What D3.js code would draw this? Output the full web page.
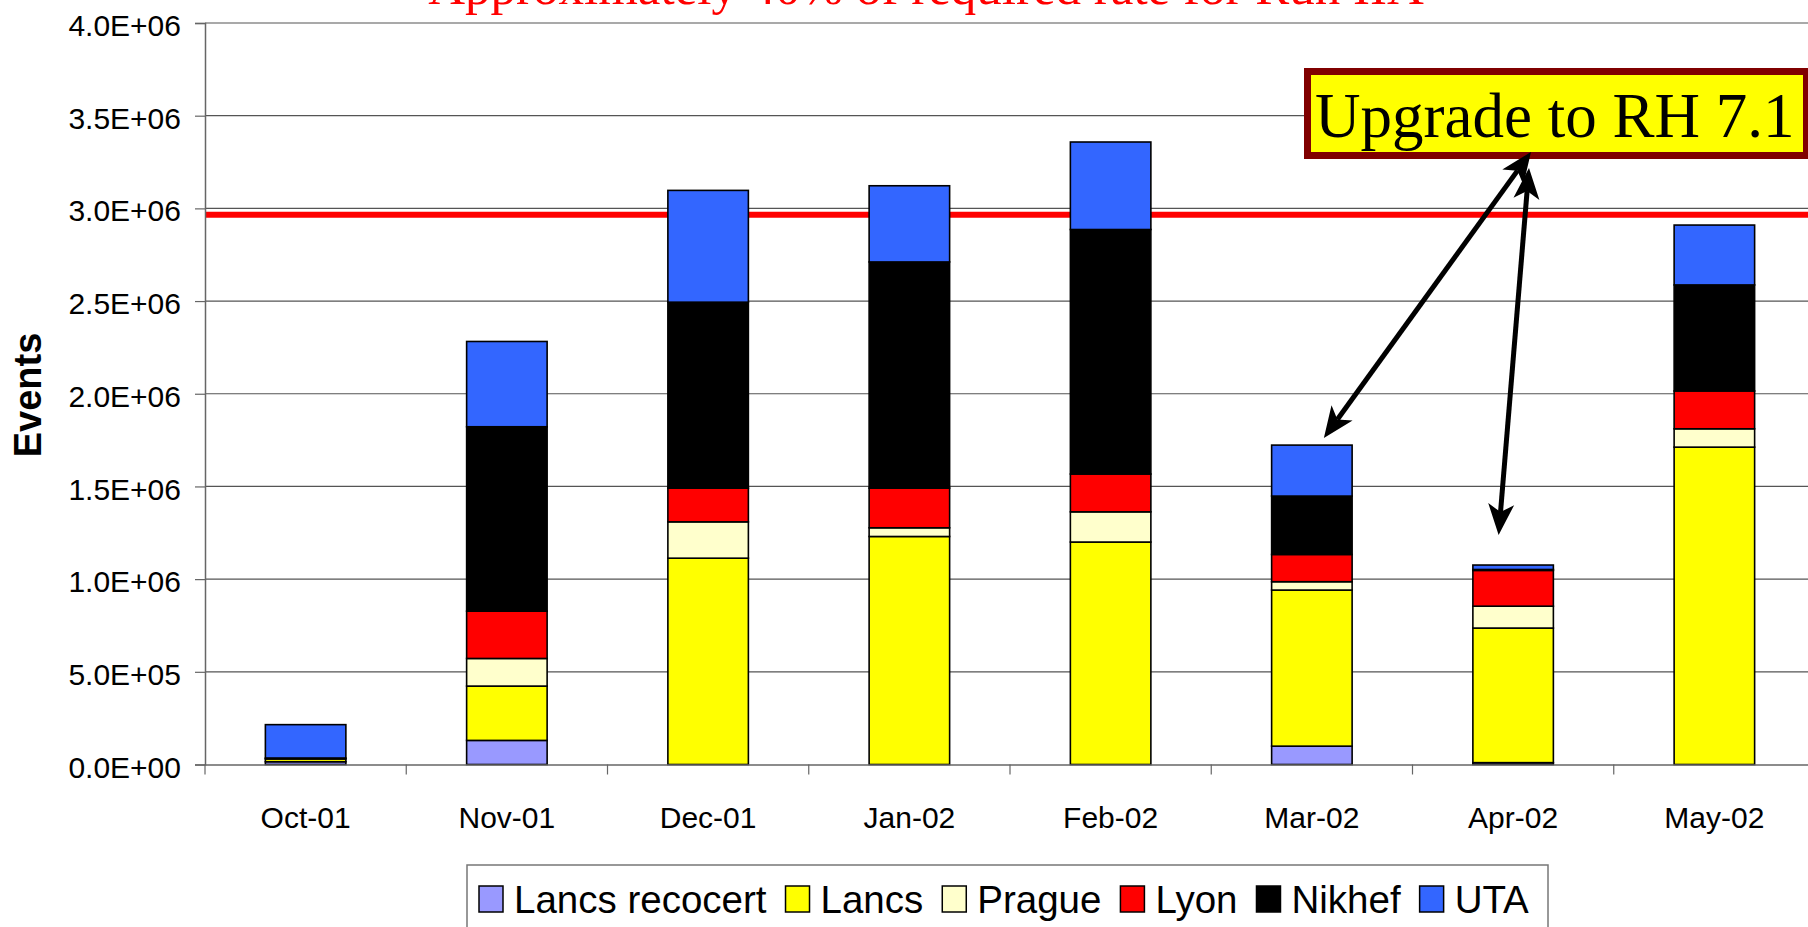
<!DOCTYPE html>
<html>
<head>
<meta charset="utf-8">
<script src="https://cdn.jsdelivr.net/npm/d3@7/dist/d3.min.js"></script>
<style>
  html, body { margin: 0; padding: 0; background: #fff; overflow: hidden; }
  svg { display: block; }
</style>
</head>
<body>
<svg id="chart" width="1808" height="927"></svg>
<script>
// ---------------- DATA ----------------
const categories = ["Oct-01", "Nov-01", "Dec-01", "Jan-02", "Feb-02", "Mar-02", "Apr-02", "May-02"];
const seriesNames = ["Lancs recocert", "Lancs", "Prague", "Lyon", "Nikhef", "UTA"];
const seriesColors = ["#9999FF", "#FFFF00", "#FFFFCC", "#FF0000", "#000000", "#3366FF"];
const lancsRecocert = [15000, 130000, 0, 0, 0, 99000, 10000, 0];
const lancs         = [15000, 293000, 1113000, 1230000, 1200000, 842000, 726000, 1712000];
const prague        = [5000, 149000, 196000, 47000, 163000, 45000, 118000, 99000];
const lyon          = [0, 255000, 182000, 214000, 204000, 147000, 193000, 204000];
const nikhef        = [0, 995000, 1003000, 1220000, 1319000, 315000, 5000, 572000];
const uta           = [180000, 460000, 603000, 411000, 472000, 275000, 24000, 323000];
const yTickValues = [0, 500000, 1000000, 1500000, 2000000, 2500000, 3000000, 3500000, 4000000];
const yTickLabels = ["0.0E+00", "5.0E+05", "1.0E+06", "1.5E+06", "2.0E+06", "2.5E+06", "3.0E+06", "3.5E+06", "4.0E+06"];
const yAxisTitle = "Events";
const requiredRate = 2965000;
const titleText = "Approximately 40% of required rate for Run IIA";
const annotationText = "Upgrade to RH 7.1";
const arrowTargetCategories = ["Mar-02", "Apr-02"];
const arrowTargetValues = [1761000, 1238000];

// ---------------- LAYOUT ----------------
const svg = d3.select("#chart");
const sansFont = "'Liberation Sans', Arial, Helvetica, sans-serif";
const serifFont = "'Liberation Serif', 'Times New Roman', Times, serif";
const plotLeft = 205, plotRight = 1815, plotTop = 23, plotBottom = 764.5;

const seriesData = [lancsRecocert, lancs, prague, lyon, nikhef, uta];
const table = categories.map((c, i) => {
  const row = { category: c };
  seriesNames.forEach((s, j) => row[s] = seriesData[j][i]);
  return row;
});

const x = d3.scaleBand().domain(categories).range([plotLeft, plotRight]).padding(0);
const y = d3.scaleLinear().domain([0, 4000000]).range([plotBottom, plotTop]);
const color = d3.scaleOrdinal().domain(seriesNames).range(seriesColors);
const bw = x.bandwidth();
const barW = bw * 0.4;

// gridlines
svg.append("g").selectAll("line")
  .data(yTickValues.filter(v => v > 0))
  .join("line")
  .attr("x1", plotLeft).attr("x2", 1808)
  .attr("y1", d => y(d)).attr("y2", d => y(d))
  .attr("stroke", "#555").attr("stroke-width", 1.2);

// red required-rate line
svg.append("line")
  .attr("x1", plotLeft).attr("x2", 1808)
  .attr("y1", y(requiredRate)).attr("y2", y(requiredRate))
  .attr("stroke", "#FF0000").attr("stroke-width", 6);

// stacked bars
const stacked = d3.stack().keys(seriesNames)(table);
svg.append("g").selectAll("g")
  .data(stacked)
  .join("g")
  .attr("fill", d => color(d.key))
  .selectAll("rect")
  .data(d => d.filter(s => s[1] - s[0] > 0))
  .join("rect")
  .attr("x", d => x(d.data.category) + (bw - barW) / 2)
  .attr("width", barW)
  .attr("y", d => y(d[1]))
  .attr("height", d => y(d[0]) - y(d[1]))
  .attr("stroke", "#000").attr("stroke-width", 1.6);

// y axis
const yAxis = d3.axisLeft(y).tickValues(yTickValues)
  .tickFormat((d, i) => yTickLabels[i]).tickSizeOuter(0).tickSize(10).tickPadding(14);
const gy = svg.append("g").attr("transform", `translate(${plotLeft},0)`).call(yAxis);
gy.select(".domain").attr("stroke", "#666").attr("stroke-width", 1.5);
gy.selectAll(".tick line").attr("stroke", "#666").attr("stroke-width", 1.2);
gy.selectAll(".tick text").attr("font-family", sansFont).attr("font-size", 30)
  .attr("fill", "#000").attr("dy", "0.42em");

// x axis
const xAxis = d3.axisBottom(x).tickSize(0).tickSizeOuter(0).tickPadding(42);
const gx = svg.append("g").attr("transform", `translate(0,${plotBottom})`).call(xAxis);
gx.select(".domain").attr("stroke", "#666").attr("stroke-width", 1.5);
gx.selectAll(".tick text").attr("font-family", sansFont).attr("font-size", 30).attr("fill", "#000");
// tick marks between categories
gx.append("g").selectAll("line")
  .data(categories)
  .join("line")
  .attr("x1", d => x(d)).attr("x2", d => x(d))
  .attr("y1", 0).attr("y2", 10)
  .attr("stroke", "#666").attr("stroke-width", 1.2);

// y axis title
svg.append("text")
  .attr("transform", "translate(41,395) rotate(-90)")
  .attr("text-anchor", "middle")
  .attr("font-family", sansFont).attr("font-weight", "bold").attr("font-size", 38)
  .text(yAxisTitle);

// title (partially cut off at the top, as in the original slide)
svg.append("text")
  .attr("x", 926).attr("y", 4)
  .attr("text-anchor", "middle")
  .attr("font-family", serifFont).attr("font-size", 51).attr("fill", "#FF0000")
  .text(titleText);

// legend
const legend = svg.append("g");
legend.append("rect")
  .attr("x", 467).attr("y", 865).attr("width", 1081).attr("height", 80)
  .attr("fill", "#fff").attr("stroke", "#777").attr("stroke-width", 1.5);
let lx = 479;
seriesNames.forEach((s, i) => {
  legend.append("rect")
    .attr("x", lx).attr("y", 886).attr("width", 24).attr("height", 26)
    .attr("fill", color(s)).attr("stroke", "#000").attr("stroke-width", 1.5);
  const t = legend.append("text")
    .attr("x", lx + 35).attr("y", 913)
    .attr("font-family", sansFont).attr("font-size", 38.5).attr("fill", "#000")
    .text(s);
  lx += 35 + t.node().getComputedTextLength() + 19;
});

// annotation box
const box = { x: 1307.5, y: 71.5, w: 499, h: 84 };
svg.append("rect")
  .attr("x", box.x).attr("y", box.y).attr("width", box.w).attr("height", box.h)
  .attr("fill", "#FFFF00").attr("stroke", "#800000").attr("stroke-width", 7);
svg.append("text")
  .attr("x", 1315).attr("y", 137)
  .attr("font-family", serifFont).attr("font-size", 63).attr("fill", "#000")
  .text(annotationText);

// double-headed arrows
function arrowHead(g, tipX, tipY, fromX, fromY) {
  const dx = tipX - fromX, dy = tipY - fromY;
  const len = Math.hypot(dx, dy);
  const ux = dx / len, uy = dy / len;
  const px = -uy, py = ux;
  const L = 31, W = 13, notch = 23;
  const bx = tipX - ux * L, by = tipY - uy * L;
  const nx = tipX - ux * notch, ny = tipY - uy * notch;
  g.append("path")
    .attr("d", `M${tipX},${tipY} L${bx + px * W},${by + py * W} L${nx},${ny} L${bx - px * W},${by - py * W} Z`)
    .attr("fill", "#000");
  return [nx, ny];
}
function doubleArrow(x1, y1, x2, y2) {
  const g = svg.append("g");
  const a = arrowHead(g, x1, y1, x2, y2);
  const b = arrowHead(g, x2, y2, x1, y1);
  g.append("line")
    .attr("x1", a[0]).attr("y1", a[1]).attr("x2", b[0]).attr("y2", b[1])
    .attr("stroke", "#000").attr("stroke-width", 5);
}
const arrowStarts = [[box.x + 223.5, box.y + box.h - 3.5], [box.x + 221.5, box.y + box.h + 12.5]];
const arrowOffsets = [12, -14.5];
arrowTargetCategories.forEach((c, i) => {
  const tx = x(c) + bw / 2 + arrowOffsets[i];
  const ty = y(arrowTargetValues[i]);
  doubleArrow(arrowStarts[i][0], arrowStarts[i][1], tx, ty);
});
</script>
</body>
</html>
